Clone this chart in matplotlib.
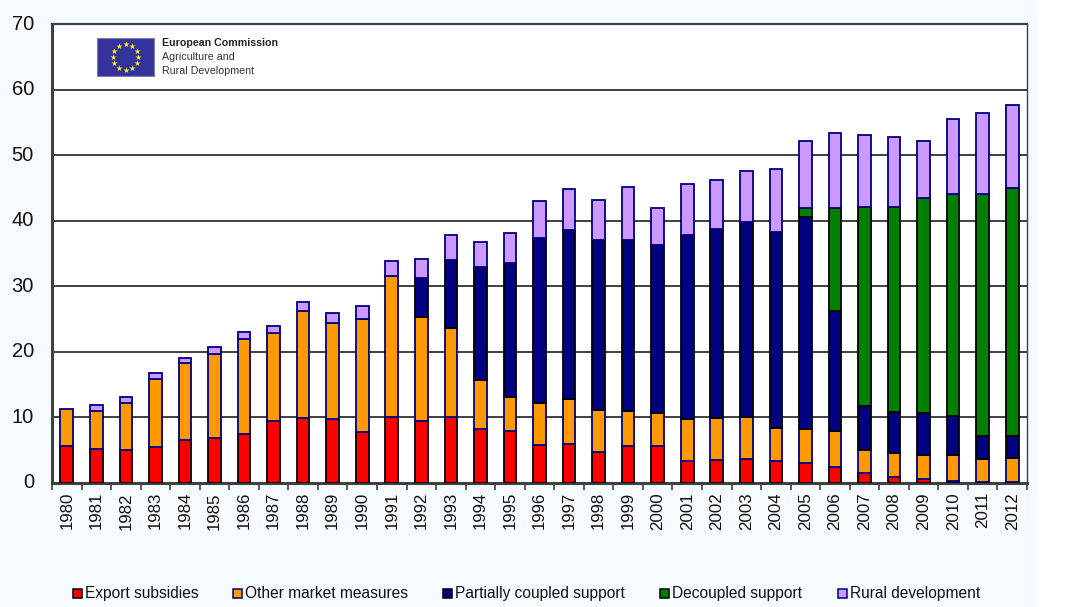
import numpy as np
import matplotlib
matplotlib.use('Agg')
import matplotlib.pyplot as plt
from matplotlib.patches import Rectangle
from matplotlib.transforms import ScaledTranslation

plt.rcParams['font.family'] = ['Liberation Sans', 'DejaVu Sans']

years = list(range(1980, 2013))
export_subsidies = [5.7, 5.2, 5.0, 5.5, 6.6, 6.8, 7.4, 9.4, 9.9, 9.7, 7.8, 10.1, 9.5, 10.1, 8.2, 7.9, 5.8,
                    5.9, 4.8, 5.6, 5.7, 3.4, 3.5, 3.7, 3.4, 3.0, 2.5, 1.5, 0.9, 0.6, 0.3, 0.2, 0.1]
other_market = [5.6, 5.8, 7.2, 10.3, 11.7, 12.8, 14.6, 13.5, 16.4, 14.7, 17.2, 21.4, 15.8, 13.6, 7.5, 5.2, 6.4,
                6.9, 6.4, 5.4, 5.0, 6.3, 6.4, 6.4, 5.0, 5.3, 5.5, 3.5, 3.7, 3.7, 4.0, 3.4, 3.7]
partially_coupled = [0, 0, 0, 0, 0, 0, 0, 0, 0, 0, 0, 0, 6.0, 10.3, 17.2, 20.5, 25.1,
                     25.8, 25.8, 26.0, 25.6, 28.1, 28.9, 29.7, 29.9, 32.3, 18.2, 6.8, 6.2, 6.3, 5.9, 3.6, 3.4]
decoupled = [0, 0, 0, 0, 0, 0, 0, 0, 0, 0, 0, 0, 0, 0, 0, 0, 0,
             0, 0, 0, 0, 0, 0, 0, 0, 1.4, 15.8, 30.3, 31.3, 32.8, 33.8, 36.9, 37.8]
rural = [0, 0.9, 0.9, 1.0, 0.7, 1.1, 1.1, 1.0, 1.3, 1.5, 2.0, 2.4, 2.8, 3.8, 3.9, 4.5, 5.7,
         6.2, 6.1, 8.2, 5.6, 7.8, 7.4, 7.8, 9.6, 10.2, 11.4, 10.9, 10.6, 8.8, 11.5, 12.3, 12.7]

series = [
    ('Export subsidies', export_subsidies, '#FF0000', '#000000'),
    ('Other market measures', other_market, '#FF9900', '#000080'),
    ('Partially coupled support', partially_coupled, '#000080', '#000000'),
    ('Decoupled support', decoupled, '#008000', '#000000'),
    ('Rural development', rural, '#CC99FF', '#000080'),
]
# legend swatch left edges, in pixels
legend_x = [73, 233, 443, 660, 838]

W, H = 1070, 607
fig = plt.figure(figsize=(W / 100, H / 100), dpi=100, facecolor='white')
# pale blue page stops short of the right edge
fig.patches.append(Rectangle((0, 0), 1038 / W, 1, transform=fig.transFigure, facecolor='#F5FBFF',
                             edgecolor='none', zorder=-1))

ax = fig.add_axes([52 / W, 1 - 483 / H, (1027 - 52) / W, (483 - 24) / H])
ax.set_xlim(-0.5, 32.5)
ax.set_ylim(0, 70)

x = np.arange(len(years))
bottom = np.zeros(len(years))
for name, values, color, edge in series:
    values = np.array(values)
    ax.bar(x, np.where(values > 0, values, np.nan), 0.43, bottom=bottom, color=color, edgecolor=edge,
           linewidth=1.3, label=name, zorder=3)
    bottom += values

ax.set_yticks(range(0, 80, 10))
ax.tick_params(axis='y', length=0, labelsize=14.5, pad=13, colors='#111111')
# y labels sit a little above their gridlines in the original
for label in ax.get_yticklabels():
    label.set_transform(label.get_transform() + ScaledTranslation(0, 2 / 100, fig.dpi_scale_trans))
ax.yaxis.grid(True, color='#404040', linewidth=1.4, zorder=1)
ax.set_axisbelow(True)

ax.set_xticks(np.arange(-0.5, 33, 1))
ax.set_xticklabels([])
ax.set_xticks(x, minor=True)
ax.set_xticklabels(years, minor=True, rotation=90, fontsize=12.2, color='#111111')
ax.tick_params(axis='x', which='major', length=5, width=1.2, color='#404040')
ax.tick_params(axis='x', which='minor', length=0, pad=6.5)

for side, lw in [('left', 2.2), ('bottom', 2.2), ('top', 1.6), ('right', 1.0)]:
    ax.spines[side].set_linewidth(lw)
    ax.spines[side].set_color('#404040')

# European Commission logo
logo = fig.add_axes([97 / W, 1 - 76 / H, 57 / W, 38 / H])
logo.set_facecolor('#333399')
logo.set_xlim(-1.5, 1.5)
logo.set_ylim(-1, 1)
logo.set_xticks([])
logo.set_yticks([])
for spine in logo.spines.values():
    spine.set_color('#8080B8')
    spine.set_linewidth(0.8)
angles = np.deg2rad(np.arange(0, 360, 30))
logo.scatter(0.68 * np.cos(angles), 0.68 * np.sin(angles), marker='*', s=20, color='#FFEE22', linewidths=0)

fig.text(161.5 / W, 1 - 43 / H, 'European Commission', fontsize=7.7, fontweight='bold', color='#222222', va='center')
fig.text(161.5 / W, 1 - 57 / H, 'Agriculture and', fontsize=7.7, color='#333333', va='center')
fig.text(161.5 / W, 1 - 70.5 / H, 'Rural Development', fontsize=7.7, color='#333333', va='center')

# legend placed by hand, the gaps in the original are uneven
for (name, values, color, edge), lx in zip(series, legend_x):
    fig.patches.append(Rectangle((lx / W, 1 - 598 / H), 9 / W, 9 / H, transform=fig.transFigure,
                                 facecolor=color, edgecolor=edge, linewidth=1.1))
    fig.text((lx + 12) / W, 1 - 593.5 / H, name, fontsize=11.2, color='#111111', va='center')

fig.savefig('out.png', dpi=100, facecolor=fig.get_facecolor())
